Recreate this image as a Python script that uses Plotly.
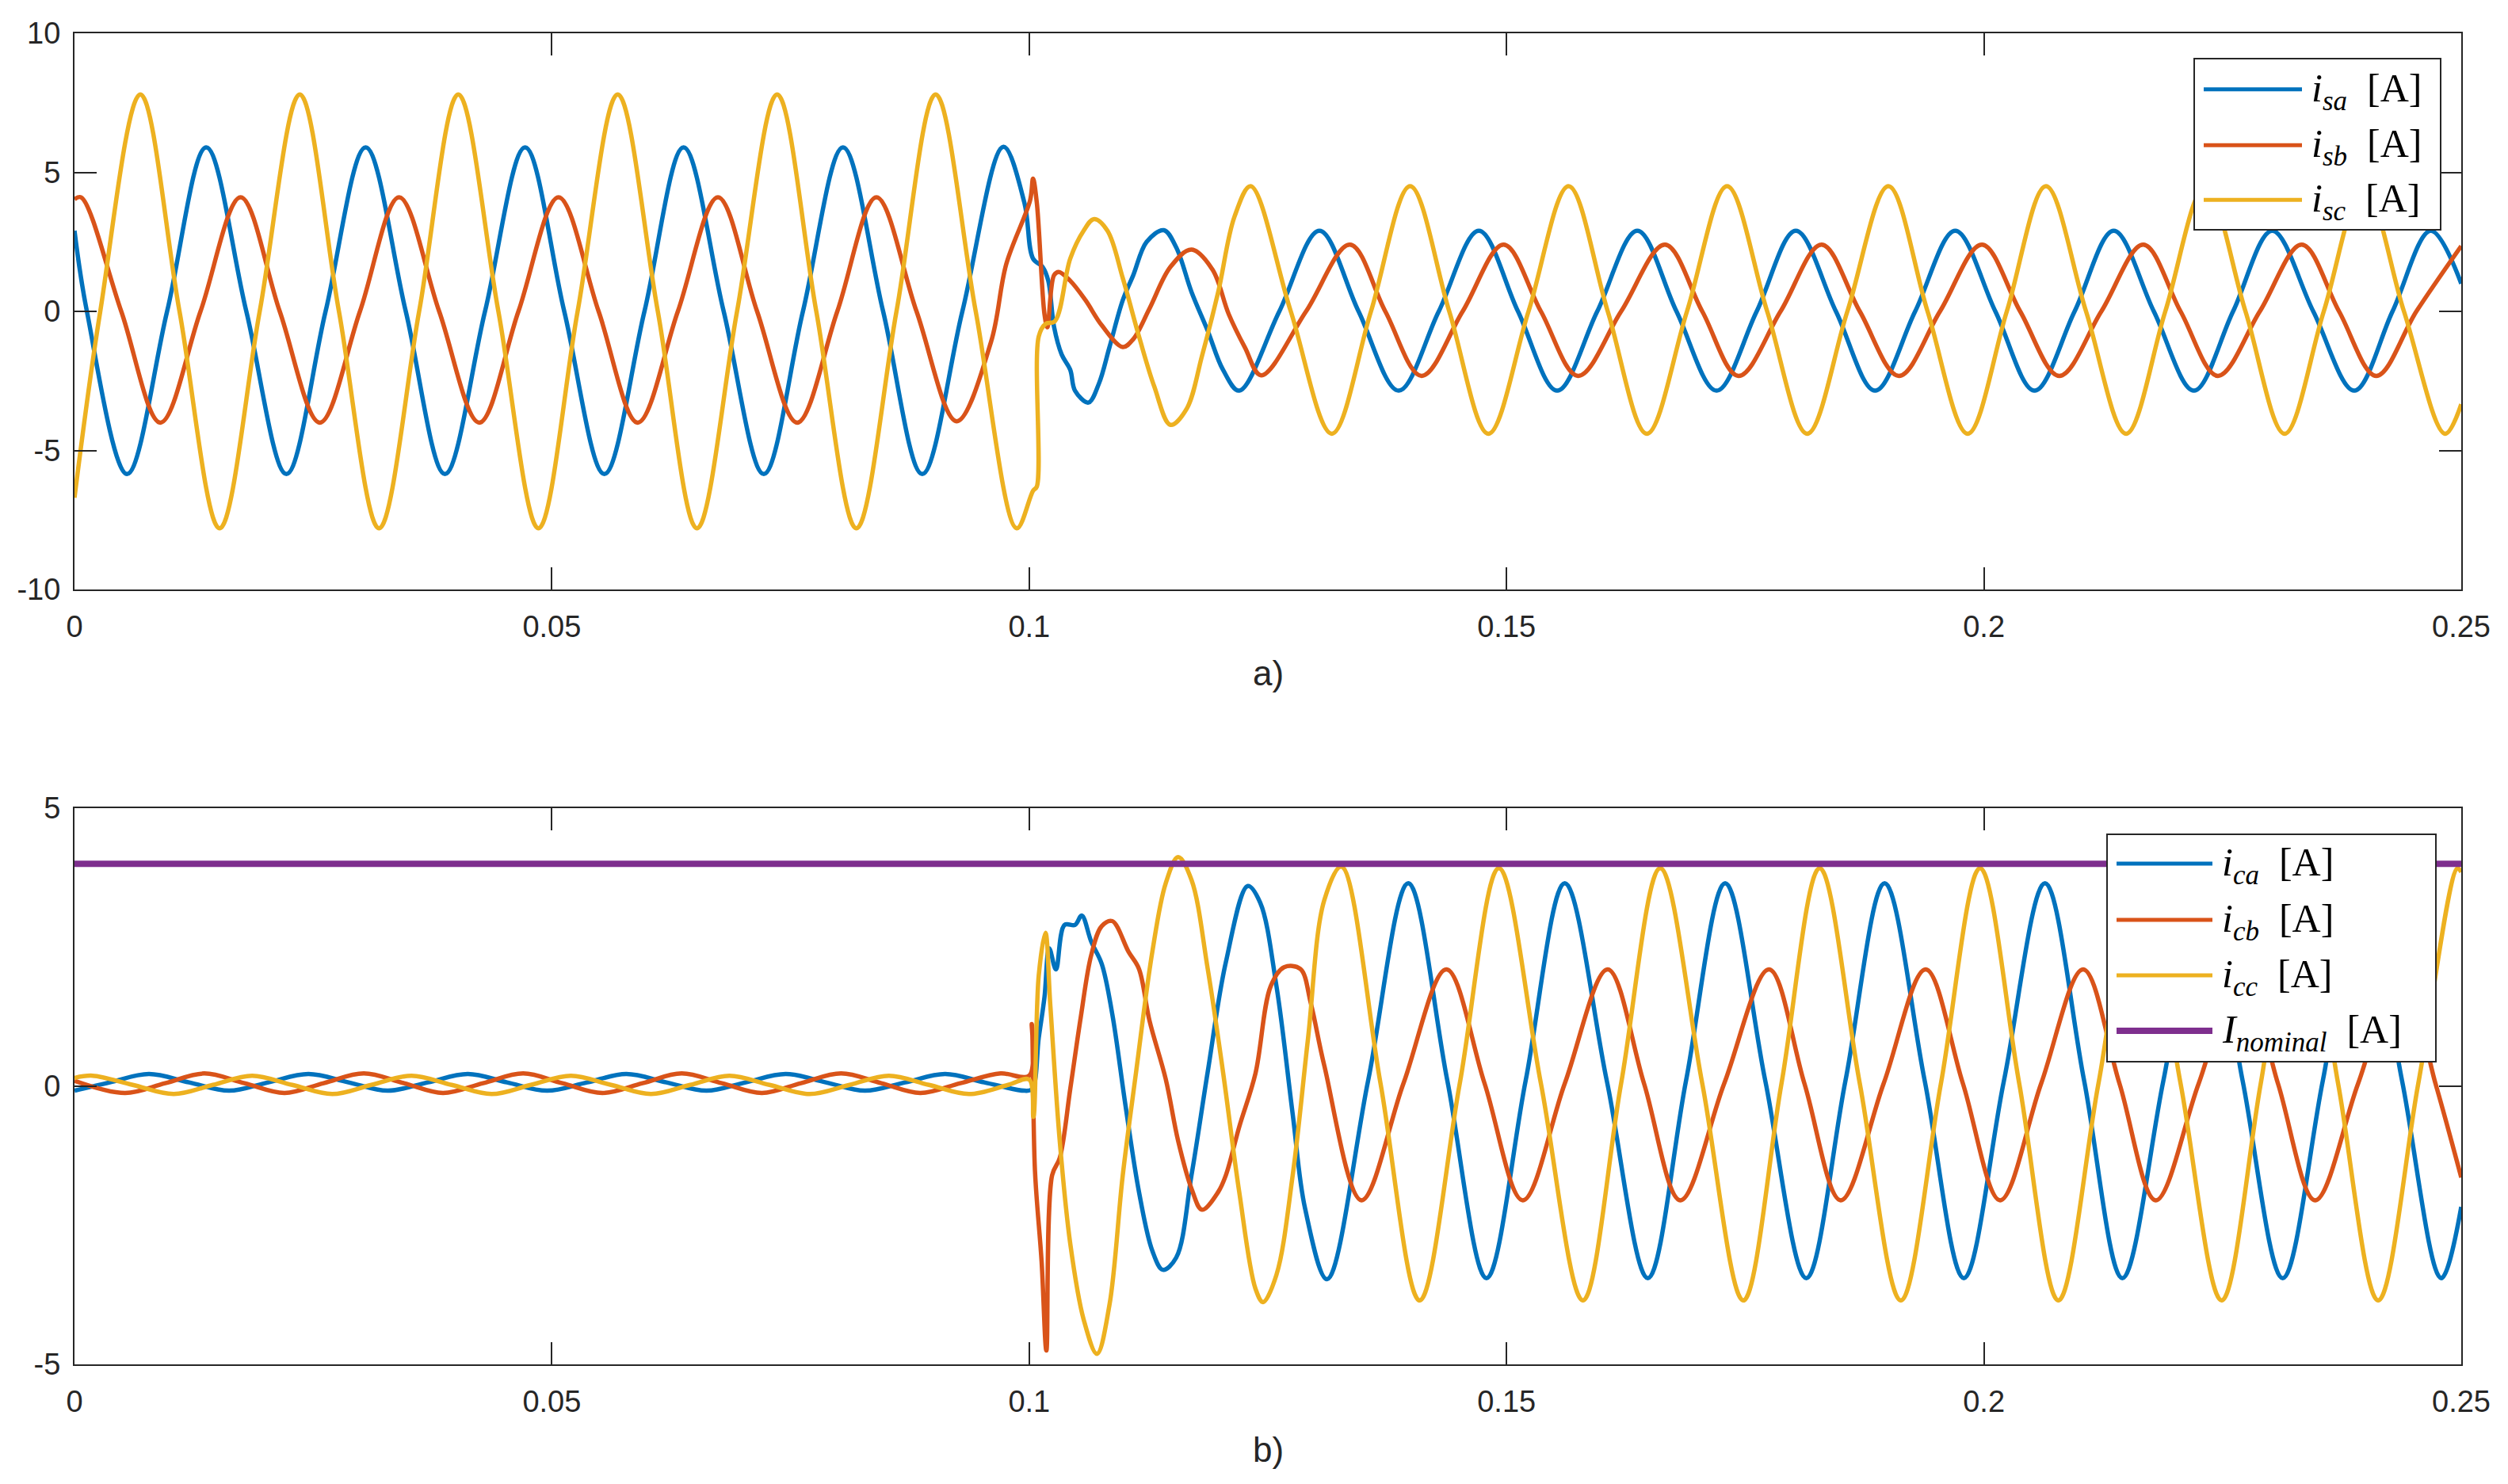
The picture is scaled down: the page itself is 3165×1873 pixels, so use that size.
import plotly.graph_objects as go

# ---------------- data ----------------
# Panel a) source currents
t_isa = [0.0, 0.0013, 0.0055, 0.0097, 0.0138, 0.0180, 0.0222, 0.0263, 0.0305, 0.0347, 0.0388, 0.0430,
         0.0472, 0.0513, 0.0555, 0.0597, 0.0638, 0.0680, 0.0722, 0.0763, 0.0805, 0.0847, 0.0888, 0.0930, 0.0973,
         0.0995, 0.1004, 0.1014, 0.1020, 0.1026, 0.1034, 0.1043, 0.1048, 0.1062, 0.1073, 0.1084, 0.1098, 0.1109,
         0.1123, 0.1141, 0.1154, 0.1170, 0.1187, 0.1203, 0.1220,
         0.1262, 0.1304, 0.1345, 0.1387, 0.1429, 0.1471, 0.1512, 0.1553, 0.1595, 0.1637, 0.1678, 0.1720, 0.1762,
         0.1803, 0.1845, 0.1886, 0.1928, 0.1970, 0.2012, 0.2053, 0.2095, 0.2136, 0.2178, 0.2220, 0.2261, 0.2302,
         0.2345, 0.2388, 0.2428, 0.2468, 0.2500]
isa = [2.9, 0, -5.85, 0, 5.9, 0, -5.85, 0, 5.9, 0, -5.85, 0, 5.9, 0, -5.85, 0, 5.9, 0, -5.85, 0, 5.9, 0, -5.85, 0, 5.92,
       3.9, 1.9, 1.6, 1.1, -0.55, -1.55, -2.1, -2.85, -3.28, -2.6, -1.3, 0.4, 1.3, 2.5, 2.92, 2.3, 0.7, -0.7, -2.1, -2.85,
       0, 2.9, 0, -2.85, 0, 2.9, 0, -2.85, 0, 2.9, 0, -2.85, 0, 2.9, 0, -2.85, 0, 2.9, 0, -2.85, 0, 2.9, 0, -2.85,
       0, 2.9, 0, -2.85, 0, 2.9, 1.0]

t_isb = [0.0, 0.0007, 0.0049, 0.0090, 0.0132, 0.0174, 0.0215, 0.0257, 0.0299, 0.0340, 0.0382, 0.0424, 0.0465,
         0.0507, 0.0549, 0.0590, 0.0632, 0.0674, 0.0715, 0.0757, 0.0799, 0.0840, 0.0882, 0.0924,
         0.0960, 0.0976, 0.1001, 0.1004, 0.1008, 0.1016, 0.1019, 0.1026, 0.1031, 0.1043, 0.1059, 0.1076, 0.1098,
         0.1109, 0.1126, 0.1148, 0.1170, 0.1192, 0.1209, 0.1226, 0.1243,
         0.1290, 0.1336, 0.1373, 0.1411, 0.1454, 0.1497, 0.1536, 0.1575, 0.1620, 0.1666, 0.1705, 0.1743, 0.1787,
         0.1830, 0.1870, 0.1911, 0.1954, 0.1998, 0.2038, 0.2079, 0.2123, 0.2167, 0.2206, 0.2245, 0.2289, 0.2333,
         0.2372, 0.2411, 0.2453, 0.2500]
isb = [4.03, 4.1, 0, -4.0, 0, 4.1, 0, -4.0, 0, 4.1, 0, -4.0, 0, 4.1, 0, -4.0, 0, 4.1, 0, -4.0, 0, 4.1, 0, -3.95,
       -1.1, 1.7, 4.0, 4.77, 3.9, -0.1, -0.57, 1.3, 1.42, 1.1, 0.4, -0.5, -1.28, -1.0, 0.1, 1.6, 2.22, 1.5, -0.1,
       -1.3, -2.3,
       0, 2.4, 0, -2.32, 0, 2.4, 0, -2.32, 0, 2.4, 0, -2.32, 0, 2.4, 0, -2.32, 0, 2.4, 0, -2.32, 0, 2.4, 0, -2.32,
       0, 2.4, 0, -2.32, 0, 2.35]

t_isc = [0.0, 0.0027, 0.0069, 0.0110, 0.0152, 0.0194, 0.0236, 0.0277, 0.0319, 0.0361, 0.0402, 0.0444, 0.0486,
         0.0527, 0.0569, 0.0611, 0.0652, 0.0694, 0.0736, 0.0777, 0.0819, 0.0861, 0.0902, 0.0944, 0.0987,
         0.1004, 0.1008, 0.1010, 0.1017, 0.1027, 0.1043, 0.1057, 0.1068, 0.1082, 0.1098, 0.1115, 0.1131, 0.1148,
         0.1165, 0.1181, 0.1198, 0.1215, 0.1232,
         0.1274, 0.1317, 0.1358, 0.1399, 0.1440, 0.1481, 0.1523, 0.1565, 0.1606, 0.1647, 0.1689, 0.1731, 0.1773,
         0.1815, 0.1857, 0.1900, 0.1941, 0.1983, 0.2024, 0.2065, 0.2107, 0.2149, 0.2190, 0.2232, 0.2274, 0.2315,
         0.2356, 0.2398, 0.2440, 0.2483, 0.2500]
isc = [-6.7, 0, 7.8, 0, -7.8, 0, 7.8, 0, -7.8, 0, 7.8, 0, -7.8, 0, 7.8, 0, -7.8, 0, 7.8, 0, -7.8, 0, 7.8, 0, -7.8,
       -6.45, -6.3, -0.9, -0.45, -0.35, 1.9, 2.9, 3.32, 2.9, 1.2, -0.9, -2.7, -4.08, -3.5, -1.6, 0.7, 3.4, 4.5,
       0, -4.4, 0, 4.5, 0, -4.4, 0, 4.5, 0, -4.4, 0, 4.5, 0, -4.4, 0, 4.5, 0, -4.4, 0, 4.5, 0, -4.4, 0, 4.5,
       0, -4.4, 0, 4.5, 0, -4.4, -3.34]

# Panel b) compensator currents
t_ica = [0.0, 0.0037, 0.0078, 0.0120, 0.0162, 0.0203, 0.0245, 0.0287, 0.0328, 0.0370, 0.0412, 0.0453, 0.0495,
         0.0537, 0.0578, 0.0620, 0.0662, 0.0703, 0.0745, 0.0787, 0.0828, 0.0870, 0.0912, 0.0953, 0.0995,
         0.1003, 0.1010, 0.1016, 0.1021, 0.1028, 0.1037, 0.1048, 0.1055, 0.1065, 0.1076, 0.1087, 0.1101, 0.1115,
         0.1129, 0.1140, 0.1154, 0.1170, 0.1187, 0.1206, 0.1229, 0.1242, 0.1259, 0.1276, 0.1289, 0.1312,
         0.1355, 0.1397, 0.1438, 0.1479, 0.1520, 0.1561, 0.1605, 0.1648, 0.1688, 0.1729, 0.1771, 0.1814, 0.1855,
         0.1896, 0.1938, 0.1979, 0.2021, 0.2064, 0.2105, 0.2145, 0.2188, 0.2230, 0.2271, 0.2313, 0.2355, 0.2396,
         0.2438, 0.2479, 0.2500]
ica = [-0.08, 0.07, 0.22, 0.07, -0.08, 0.07, 0.22, 0.07, -0.08, 0.07, 0.22, 0.07, -0.08, 0.07, 0.22, 0.07, -0.08,
       0.07, 0.22, 0.07, -0.08, 0.07, 0.22, 0.07, -0.08,
       -0.05, 0.87, 1.6, 2.48, 2.1, 2.9, 2.9, 3.07, 2.6, 2.2, 1.3, -0.36, -1.9, -2.96, -3.3, -3.08, -1.6, 0.26,
       2.23, 3.6, 3.3, 1.8, -0.5, -2.2, -3.47,
       0.1, 3.65, 0.1, -3.45, 0.1, 3.65, 0.1, -3.45, 0.1, 3.65, 0.1, -3.45, 0.1, 3.65, 0.1, -3.45, 0.1, 3.65,
       0.1, -3.45, 0.1, 3.65, 0.1, -3.45, 0.1, 3.65, 0.1, -3.45, -2.17]

t_icb = [0.0, 0.0053, 0.0095, 0.0136, 0.0178, 0.0220, 0.0261, 0.0303, 0.0345, 0.0386, 0.0428, 0.0470, 0.0511,
         0.0553, 0.0595, 0.0636, 0.0678, 0.0720, 0.0761, 0.0803, 0.0845, 0.0886, 0.0928, 0.0970, 0.1000,
         0.10027, 0.1006, 0.1013, 0.1018, 0.1024, 0.1032, 0.1043, 0.1054, 0.1065, 0.1076, 0.1087, 0.1104, 0.1115,
         0.1126, 0.1143, 0.1156, 0.1170, 0.1181, 0.1198, 0.1206, 0.1220, 0.1237, 0.1253, 0.1267, 0.1284, 0.1295,
         0.1309, 0.1348,
         0.1392, 0.1437, 0.1477, 0.1517, 0.1561, 0.1606, 0.1644, 0.1682, 0.1728, 0.1775, 0.1812, 0.1850, 0.1895,
         0.1939, 0.1978, 0.2017, 0.2060, 0.2104, 0.2142, 0.2180, 0.2225, 0.2270, 0.2308, 0.2347, 0.2392, 0.2437,
         0.2473, 0.2500]
icb = [0.1, -0.12, 0.055, 0.23, 0.055, -0.12, 0.055, 0.23, 0.055, -0.12, 0.055, 0.23, 0.055, -0.12, 0.055, 0.23,
       0.055, -0.12, 0.055, 0.23, 0.055, -0.12, 0.055, 0.23, 0.19,
       1.12, -1.5, -3.15, -4.75, -1.6, -1.29, -0.05, 1.24, 2.36, 2.88, 2.97, 2.42, 2.11, 1.18, 0.13, -0.98, -1.84,
       -2.22, -1.9, -1.6, -0.73, 0.23, 1.8, 2.14, 2.11, 1.49, 0.38, -2.05,
       0.05, 2.1, 0.05, -2.05, 0.05, 2.1, 0.05, -2.05, 0.05, 2.1, 0.05, -2.05, 0.05, 2.1, 0.05, -2.05, 0.05, 2.1,
       0.05, -2.05, 0.05, 2.1, 0.05, -2.05, 0.05, 2.1, 0.05, -1.64]

t_icc = [0.0, 0.0019, 0.0061, 0.0104, 0.0145, 0.0186, 0.0228, 0.0270, 0.0311, 0.0353, 0.0395, 0.0437, 0.0478,
         0.0520, 0.0562, 0.0604, 0.0645, 0.0686, 0.0728, 0.0770, 0.0812, 0.0853, 0.0895, 0.0937, 0.0978, 0.1000,
         0.10044, 0.1010, 0.1017, 0.1022, 0.1032, 0.1043, 0.1057, 0.1071, 0.1084, 0.1098, 0.1112, 0.1129, 0.1143,
         0.1156, 0.1170, 0.1187, 0.1203, 0.1220, 0.1237, 0.1245, 0.1259, 0.1276, 0.1292, 0.1309, 0.1327,
         0.1368, 0.1409, 0.1451, 0.1492, 0.1536, 0.1580, 0.1620, 0.1661, 0.1705, 0.1748, 0.1788, 0.1828, 0.1870,
         0.1913, 0.1955, 0.1996, 0.2037, 0.2078, 0.2120, 0.2163, 0.2206, 0.2249, 0.2290, 0.2330, 0.2371, 0.2413,
         0.2455, 0.2496, 0.2500]
icc = [0.15, 0.19, 0.025, -0.14, 0.025, 0.19, 0.025, -0.14, 0.025, 0.19, 0.025, -0.14, 0.025, 0.19, 0.025, -0.14,
       0.025, 0.19, 0.025, -0.14, 0.025, 0.19, 0.025, -0.14, 0.025, 0.12,
       -0.55, 1.99, 2.76, 1.49, -0.98, -2.83, -4.19, -4.81, -3.94, -1.6, 0.26, 2.42, 3.65, 4.12, 3.71, 2.11, 0.26,
       -1.9, -3.64, -3.88, -3.39, -1.6, 0.85, 3.34, 3.95,
       0.05, -3.85, 0.05, 3.92, 0.05, -3.85, 0.05, 3.92, 0.05, -3.85, 0.05, 3.92, 0.05, -3.85, 0.05, 3.92, 0.05,
       -3.85, 0.05, 3.92, 0.05, -3.85, 0.05, 3.92, 0.05, -3.85, 0.05, 3.92, 3.85]

t_nom = [0.0, 0.25]
i_nom = [4.0, 4.0]

x_ticks = [0, 0.05, 0.1, 0.15, 0.2, 0.25]
x_tick_labels = ["0", "0.05", "0.1", "0.15", "0.2", "0.25"]
ya_ticks = [-10, -5, 0, 5, 10]
ya_tick_labels = ["-10", "-5", "0", "5", "10"]
yb_ticks = [-5, 0, 5]
yb_tick_labels = ["-5", "0", "5"]

names_a = ["i_sa", "i_sb", "i_sc"]
names_b = ["i_ca", "i_cb", "i_cc", "I_nominal"]

for tt, vv in [(t_isa, isa), (t_isb, isb), (t_isc, isc), (t_ica, ica), (t_icb, icb), (t_icc, icc)]:
    assert len(tt) == len(vv), (len(tt), len(vv))

# ---------------- styling ----------------
BLUE, RED, YEL, PUR = "#0072BD", "#D95319", "#EDB120", "#7E2F8E"
AX = "#262626"
OFF = 8                      # default page margin around the plot div
W, H = 3165 - 2 * OFF, 1873 - 2 * OFF - 4
PL, PR, PT, PB = 94, 3106, 42, 1722   # plot-area box in page pixels
LW = 5.5


def px(x):
    return (x - PL) / (PR - PL)


def py(y):
    return (PB - y) / (PB - PT)


fig = go.Figure()
series_a = [(t_isa, isa, BLUE), (t_isb, isb, RED), (t_isc, isc, YEL)]
for (tt, vv, c), nm in zip(series_a, names_a):
    fig.add_trace(go.Scatter(x=tt, y=vv, mode="lines", name=nm, showlegend=False,
                             line=dict(color=c, width=LW, shape="spline", smoothing=1.0),
                             xaxis="x", yaxis="y"))
series_b = [(t_ica, ica, BLUE, LW), (t_icb, icb, RED, LW), (t_icc, icc, YEL, LW), (t_nom, i_nom, PUR, 8)]
for (tt, vv, c, w), nm in zip(series_b, names_b):
    fig.add_trace(go.Scatter(x=tt, y=vv, mode="lines", name=nm, showlegend=False,
                             line=dict(color=c, width=w, shape="spline" if len(tt) > 2 else "linear",
                                       smoothing=1.0),
                             xaxis="x2", yaxis="y2"))

tickfont = dict(family="Liberation Sans, Arial, sans-serif", size=38, color=AX)
axcommon = dict(showline=True, linecolor=AX, linewidth=2, mirror="ticks", ticks="inside",
                ticklen=28, tickwidth=2, tickcolor=AX, showgrid=False, zeroline=False,
                tickfont=tickfont)

ya_dom = [py(744), 1.0]
yb_dom = [0.0, py(1020)]

fig.update_layout(
    width=W, height=H,
    margin=dict(l=PL - OFF, r=OFF + W - PR, t=PT - OFF, b=OFF + H - PB, pad=0),
    paper_bgcolor="white", plot_bgcolor="white",
    xaxis=dict(domain=[0, 1], anchor="y", range=[0, 0.25], tickvals=x_ticks, ticktext=x_tick_labels,
               ticklabelstandoff=12, **axcommon),
    yaxis=dict(domain=ya_dom, anchor="x", range=[-10, 10], tickvals=ya_ticks, ticktext=ya_tick_labels,
               ticklabelstandoff=8, **axcommon),
    xaxis2=dict(domain=[0, 1], anchor="y2", range=[0, 0.25], tickvals=x_ticks, ticktext=x_tick_labels,
                ticklabelstandoff=12, **axcommon),
    yaxis2=dict(domain=yb_dom, anchor="x2", range=[-5, 5], tickvals=yb_ticks, ticktext=yb_tick_labels,
                ticklabelstandoff=8, **axcommon),
)

# ---------------- legends drawn as boxes, sample lines and text ----------------
shapes = []
annots = []
LEGFONT = dict(family="Liberation Serif, Times New Roman, serif", size=50, color="black")


def legend(box, rows, line_x0, line_x1, text_x, entries):
    x0, y0, x1, y1 = box
    shapes.append(dict(type="rect", xref="paper", yref="paper", x0=px(x0), x1=px(x1), y0=py(y1), y1=py(y0),
                       fillcolor="white", line=dict(color=AX, width=2), layer="above"))
    for ry, (label, color, w) in zip(rows, entries):
        shapes.append(dict(type="line", xref="paper", yref="paper", x0=px(line_x0), x1=px(line_x1),
                           y0=py(ry), y1=py(ry), line=dict(color=color, width=w), layer="above"))
        annots.append(dict(xref="paper", yref="paper", x=px(text_x), y=py(ry + 2), xanchor="left",
                           yanchor="middle", showarrow=False, text=label, font=LEGFONT))


def lab(main, sub, sp="\u00a0\u00a0"):
    return "<i>%s</i><sub><i>%s</i></sub>%s[A]" % (main, sub, sp)


legend((2769, 74, 3080, 290), [112.7, 183.3, 252.3], 2781, 2905, 2915,
       [(lab("i", "sa"), BLUE, 5), (lab("i", "sb"), RED, 5), (lab("i", "sc"), YEL, 5)])
legend((2659, 1053, 3074, 1340), [1090, 1161, 1231, 1301], 2671, 2792, 2802,
       [(lab("i", "ca"), BLUE, 5), (lab("i", "cb"), RED, 5), (lab("i", "cc"), YEL, 5),
        (lab("I", "nominal"), PUR, 8)])

capfont = dict(family="Liberation Sans, Arial, sans-serif", size=44, color=AX)
annots.append(dict(xref="paper", yref="paper", x=0.5, y=py(850), xanchor="center", yanchor="middle",
                   showarrow=False, text="a)", font=capfont))
annots.append(dict(xref="paper", yref="paper", x=0.5, y=py(1829), xanchor="center", yanchor="middle",
                   showarrow=False, text="b)", font=capfont))

fig.update_layout(shapes=shapes, annotations=annots)
fig.write_html("out.html")
